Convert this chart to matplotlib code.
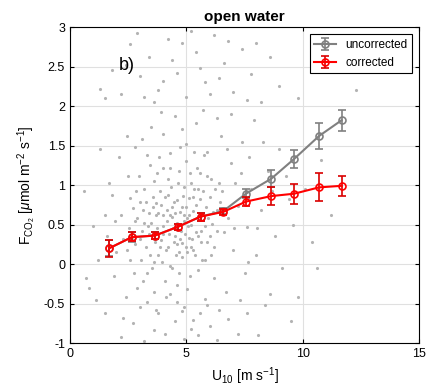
import numpy as np
import matplotlib
matplotlib.use('Agg')
import matplotlib.pyplot as plt

plt.rcParams['font.family'] = ['Liberation Sans', 'DejaVu Sans']
plt.rcParams['mathtext.fontset'] = 'custom'
plt.rcParams['mathtext.rm'] = 'Liberation Sans'
plt.rcParams['mathtext.it'] = 'Liberation Sans:italic'

# bin centres of wind speed
u_bins = [1.69, 2.66, 3.65, 4.63, 5.61, 6.59, 7.56, 8.65, 9.63, 10.70, 11.67]

# uncorrected flux and error half-width
f_unc = [0.20, 0.34, 0.36, 0.47, 0.60, 0.67, 0.89, 1.08, 1.33, 1.62, 1.82]
e_unc = [0.10, 0.06, 0.04, 0.04, 0.05, 0.04, 0.06, 0.11, 0.11, 0.16, 0.13]

# corrected flux, lower / upper errors
f_cor = [0.20, 0.34, 0.36, 0.47, 0.60, 0.66, 0.79, 0.86, 0.89, 0.97, 0.99]
e_cor_lo = [0.11, 0.05, 0.04, 0.04, 0.05, 0.04, 0.06, 0.11, 0.13, 0.17, 0.13]
e_cor_hi = [0.10, 0.06, 0.04, 0.04, 0.05, 0.04, 0.06, 0.11, 0.12, 0.18, 0.12]

# individual samples, estimated from the cloud in the picture
pts = [
    (3.1, 0.42), (3.4, 0.65), (3.8, 0.12), (4.2, 0.88), (4.5, 0.35), (4.9, 0.55), (5.3, 0.18),
    (5.7, 0.92), (3.3, -0.12), (3.6, 1.05), (4.0, 0.48), (4.4, -0.05), (4.7, 1.18), (5.0, 0.72),
    (5.4, 0.41), (5.9, 0.28), (3.0, 0.78), (3.9, 0.31), (4.3, 0.62), (4.8, 0.09), (5.2, 1.02),
    (5.6, 0.63), (6.1, 0.51), (2.8, 0.25), (3.5, 0.52), (4.1, -0.22), (4.6, 0.81), (5.1, 0.33),
    (5.5, -0.08), (6.0, 0.85), (2.9, 0.58), (3.7, 0.77), (4.2, 0.21), (4.6, 0.44), (5.0, 1.31),
    (5.3, 0.67), (5.8, 0.05), (6.3, 0.69), (3.2, 0.95), (3.6, 0.02), (4.0, 1.22), (4.4, 0.59),
    (4.8, 0.26), (5.2, 0.49), (5.6, 1.15), (6.2, 0.22), (2.7, 0.71), (3.4, 0.38), (3.8, 0.64),
    (4.3, 1.41), (4.7, 0.15), (5.1, 0.84), (5.5, 0.36), (6.4, 1.02),
    (3.25, 0.22), (3.55, 0.85), (3.95, 0.02), (4.15, 0.55), (4.35, 0.98), (4.55, 0.12),
    (4.75, 0.66), (4.95, 0.38), (5.15, -0.15), (5.35, 0.95), (5.65, 0.28), (5.85, 0.72),
    (3.05, 0.05), (3.45, 1.25), (3.85, 0.92), (4.25, 0.38), (4.65, 1.02), (5.05, 0.15),
    (5.45, 0.58), (5.75, 1.38), (6.05, 0.12), (6.25, 0.95), (2.95, 1.12), (3.75, 0.45),
    (4.45, 0.28), (4.85, 0.86), (5.25, 0.32), (6.15, 0.66), (2.55, 0.45), (3.15, 0.68),
    (3.35, 0.48), (3.65, 0.28), (3.92, 0.75), (4.12, 0.18), (4.38, 0.72), (4.58, 0.52),
    (4.78, 0.42), (4.92, 0.98), (5.12, 0.62), (5.38, 0.12), (5.58, 0.82), (5.82, 0.48),
    (6.08, 1.08), (6.32, 0.42), (3.02, 0.32), (3.28, 0.78), (3.52, -0.05), (3.72, 1.15),
    (4.02, 0.62), (4.22, 1.08), (4.48, 0.78), (4.68, -0.12), (4.88, 0.62), (5.08, 0.48),
    (5.28, 0.85), (5.48, 1.22), (5.68, 0.05), (5.92, 0.58), (2.85, 0.92), (3.12, -0.22),
    (3.42, 0.12), (3.68, 0.62), (3.88, 0.22), (4.08, 0.85), (4.28, -0.02), (4.52, 0.65),
    (4.72, 0.32), (4.98, 0.22), (5.18, 1.15), (5.42, 0.75), (5.62, 0.42), (5.88, 1.12),
    (2.65, 0.32), (2.78, 0.55), (3.18, 0.52), (3.58, 0.72), (3.98, 0.38), (4.18, 0.68),
    (4.42, 0.45), (4.62, 0.25), (4.82, 0.72), (5.02, 0.58), (5.22, 0.22), (5.52, 0.95),
    (6.02, 0.35), (6.45, 0.78), (2.45, 0.18), (3.82, 1.35), (4.32, 1.22), (4.72, 1.48),
    (5.32, 1.42), (3.32, 1.38), (3.62, -0.35), (4.12, -0.42), (4.62, -0.48), (5.02, -0.32),
    (1.6, 0.35), (1.9, -0.15), (2.2, 0.62), (2.5, 1.12), (2.4, -0.42), (2.1, 1.35), (1.8, 0.88),
    (2.6, 0.05), (6.6, 0.41), (6.9, 1.28), (7.2, 0.74), (7.5, -0.12), (6.7, -0.35), (7.0, 0.18),
    (7.4, 1.55), (7.8, 0.95), (6.5, 1.62), (6.8, 0.58), (7.1, 1.03), (7.6, 0.47), (3.1, 1.58),
    (3.5, 1.74), (4.0, 1.65), (4.5, 1.88), (5.0, 1.52), (5.4, 1.79), (5.9, 1.42), (3.3, -0.48),
    (3.8, -0.62), (4.3, -0.38), (4.9, -0.55), (5.3, -0.71), (5.8, -0.44), (6.2, -0.18),
    (2.3, -0.68), (2.9, -0.31), (3.6, -0.84), (4.6, -0.27), (5.5, -0.9), (6.4, -0.58),
    (7.3, -0.45), (8.0, 0.12), (8.2, 0.68), (8.5, 1.18), (8.8, 0.35), (9.1, -0.05), (8.3, 1.55),
    (9.4, 0.82), (8.6, -0.38), (7.9, 1.82), (2.0, 0.15), (1.7, 1.02), (2.8, 1.48), (3.9, 1.92),
    (4.8, 1.71), (5.7, 1.95), (6.3, 1.85), (6.9, 1.9), (7.7, 1.35), (2.6, 0.84), (1.5, 0.62),
    (1.2, 0.05), (1.0, 0.48), (0.8, -0.3), (0.6, 0.92), (1.3, 1.45), (9.0, 1.45), (9.6, 0.5),
    (10.1, 0.95), (10.4, 0.28), (10.8, 1.32), (9.8, -0.42), (11.2, 0.62), (10.6, -0.05),
    (2.3, 0.32), (2.75, -0.12), (1.95, 0.55), (2.45, 1.62), (6.55, 0.92), (7.05, 0.45),
    (7.35, 1.15), (6.75, 1.45), (8.05, 0.45), (8.7, 0.92), (9.3, 1.12), (7.65, 0.02),
    (1.8, 2.45), (2.2, 2.15), (2.6, 2.78), (3.0, 2.38), (3.4, 2.62), (3.8, 2.2), (4.2, 2.85),
    (4.6, 2.42), (5.0, 2.12), (5.4, 2.68), (5.8, 2.3), (6.2, 2.9), (6.6, 2.55), (7.0, 2.18),
    (7.4, 2.72), (7.8, 2.4), (8.2, 2.05), (8.6, 2.62), (1.5, 2.1), (2.9, 2.92), (3.6, 2.05),
    (4.4, 2.58), (5.2, 2.95), (6.0, 2.15), (6.8, 2.82), (7.6, 2.08), (9.0, 2.25), (2.4, 2.52),
    (4.0, 2.32), (5.6, 2.48), (9.8, 2.1), (12.3, 2.2), (10.9, 2.6), (1.3, 2.22), (3.2, 2.12),
    (4.8, 2.8), (6.4, 2.35), (8.0, 2.8),
    (2.2, -0.92), (2.7, -0.75), (3.2, -0.98), (3.7, -0.58), (4.1, -0.88), (4.5, -0.72),
    (4.9, -0.95), (5.2, -0.82), (5.6, -0.62), (6.0, -0.78), (6.3, -0.96), (6.8, -0.7),
    (7.2, -0.88), (8.1, -0.9), (8.4, -0.52), (9.5, -0.72), (1.5, -0.62), (3.0, -0.55),
    (4.8, -0.6), (5.9, -0.52), (7.6, -0.62), (1.1, -0.45), (0.7, -0.18),
]
pts_u = [p[0] for p in pts]
pts_f = [p[1] for p in pts]

fig = plt.figure(figsize=(4.37, 3.92), dpi=100)
ax = fig.add_axes([0.160, 0.125, 0.799, 0.806])

ax.plot(pts_u, pts_f, '.', color=(0.7, 0.7, 0.7), markersize=2.5, zorder=1)

gray = (0.5, 0.5, 0.5)
ax.errorbar(u_bins, f_unc, yerr=e_unc, color=gray, ecolor=gray, lw=1.5, elinewidth=1.2,
            marker='o', mfc='none', mec=gray, ms=5, mew=1.2, capsize=3, zorder=3,
            label='uncorrected')
ax.errorbar(u_bins, f_cor, yerr=[e_cor_lo, e_cor_hi], color='red', ecolor=(0.85, 0, 0),
            lw=1.5, elinewidth=1.2, marker='o', mfc='none', mec='red', ms=5, mew=1.2,
            capsize=3, zorder=4, label='corrected')

ax.set_xlim(0, 15)
ax.set_ylim(-1, 3)
ax.set_xticks([0, 5, 10, 15])
ax.set_yticks(np.arange(-1, 3.01, 0.5))
ax.set_yticklabels(['-1', '-0.5', '0', '0.5', '1', '1.5', '2', '2.5', '3'])
ax.grid(True, color=(0.88, 0.88, 0.88), lw=0.8)
ax.set_axisbelow(True)
ax.tick_params(direction='in', labelsize=9, top=True, right=True, length=3)
for s in ax.spines.values():
    s.set_linewidth(0.8)

ax.set_title('open water', fontsize=11, fontweight='bold', pad=4)
ax.set_xlabel('U$_{10}$ [m s$^{-1}$]', fontsize=10)
ax.set_ylabel('F$_{\\mathrm{CO_2}}$ [$\\mu$mol m$^{-2}$ s$^{-1}$]', fontsize=10)
ax.text(2.1, 2.45, 'b)', fontsize=13)

leg = ax.legend(loc='upper right', fontsize=8.5, fancybox=False, edgecolor='black',
                framealpha=1, borderaxespad=0.6, handlelength=1.8)
leg.get_frame().set_linewidth(0.8)

fig.savefig('out.png', dpi=100)
